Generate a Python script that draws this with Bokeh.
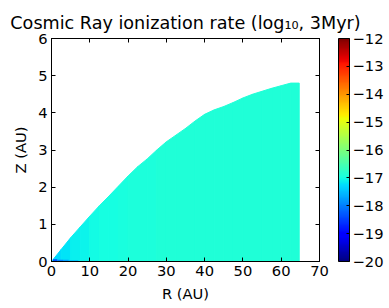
import numpy as np
from bokeh.plotting import figure
from bokeh.models import (ColumnDataSource, LinearColorMapper, ColorBar, LinearAxis,
                          FixedTicker, CustomJSTickFormatter, Range1d)
from bokeh.embed import file_html
from bokeh.resources import INLINE

# ---- data ----
R_B = [0, 2.5, 5, 7.5, 10, 12.5, 15, 17.5, 20, 22.5, 25, 27.5, 30, 32.5, 35,
       37.5, 40, 42.5, 45, 47.5, 50, 52.5, 55, 57.5, 60, 62.5, 64.7]
Z_B = [0.0, 0.32, 0.64, 0.93, 1.22, 1.50, 1.76, 2.03, 2.30, 2.55, 2.76, 3.00,
       3.22, 3.40, 3.58, 3.78, 3.96, 4.08, 4.17, 4.28, 4.40, 4.50, 4.58, 4.66,
       4.73, 4.80, 4.80]
ION = [-17.3, -17.2, -17.12, -17.07, -17.03, -17.0, -16.97, -16.95, -16.93,
       -16.92, -16.91, -16.9, -16.9, -16.9, -16.9, -16.9, -16.9, -16.9, -16.9,
       -16.9, -16.9, -16.9, -16.9, -16.9, -16.9, -16.9]
BASE_L = [0.4, 1.5, 3.0, 4.5]
BASE_R = [1.5, 3.0, 4.5, 7.0]
BASE_TOP = [0.06, 0.05, 0.045, 0.035]
BASE_ION = [-18.4, -18.0, -17.75, -17.55]
CB_TICKS = [-20, -19, -18, -17, -16, -15, -14, -13, -12]
X_TICKS = [0, 10, 20, 30, 40, 50, 60, 70]
Y_TICKS = [0, 1, 2, 3, 4, 5, 6]

# ---- jet palette (matplotlib segment definition) ----
def _seg(pts, x):
    return np.interp(x, [q[0] for q in pts], [q[1] for q in pts])
_x = np.linspace(0, 1, 256)
_r = _seg([(0, 0), (0.35, 0), (0.66, 1), (0.89, 1), (1, 0.5)], _x)
_g = _seg([(0, 0), (0.125, 0), (0.375, 1), (0.64, 1), (0.91, 0), (1, 0)], _x)
_b = _seg([(0, 0.5), (0.11, 1), (0.34, 1), (0.65, 0), (1, 0)], _x)
JET = ["#%02x%02x%02x" % (int(round(a * 255)), int(round(b * 255)), int(round(c * 255)))
       for a, b, c in zip(_r, _g, _b)]

mapper = LinearColorMapper(palette=JET, low=-20, high=-12)

FONT = "DejaVu Sans"
FS = "14.7px"

p = figure(frame_width=268, frame_height=223, output_backend="svg", toolbar_location=None,
           x_range=Range1d(0, 70), y_range=Range1d(0, 6),
           title="Cosmic Ray ionization rate (log₁₀, 3Myr)",
           min_border_left=51, min_border_top=38, min_border_bottom=10,
           min_border_right=5)
p.title.text_font = FONT
p.title.text_font_size = "17.6px"
p.title.text_font_style = "normal"
p.title.text_color = "black"
p.title.align = "center"
p.title.standoff = 12

xs, ys = [], []
for i in range(len(R_B) - 1):
    xs.append([R_B[i], R_B[i + 1], R_B[i + 1], R_B[i]])
    ys.append([0, 0, Z_B[i + 1], Z_B[i]])
src = ColumnDataSource(dict(xs=xs, ys=ys, ion=ION))
p.patches("xs", "ys", source=src,
          fill_color={"field": "ion", "transform": mapper},
          line_color={"field": "ion", "transform": mapper}, line_width=1)

bsrc = ColumnDataSource(dict(left=BASE_L, right=BASE_R, top=BASE_TOP,
                             bottom=[0] * len(BASE_L), ion=BASE_ION))
p.quad(left="left", right="right", top="top", bottom="bottom", source=bsrc,
       fill_color={"field": "ion", "transform": mapper}, line_color=None)

p.grid.visible = False
p.outline_line_color = "black"
p.outline_line_width = 1

for ax in (p.xaxis[0], p.yaxis[0]):
    ax.major_label_text_font = FONT
    ax.major_label_text_font_size = FS
    ax.major_label_text_color = "black"
    ax.axis_label_text_font = FONT
    ax.axis_label_text_font_size = FS
    ax.axis_label_text_font_style = "normal"
    ax.axis_label_text_color = "black"
    ax.major_tick_in = 4
    ax.major_tick_out = 0
    ax.major_tick_line_color = "black"
    ax.minor_tick_line_color = None
    ax.axis_line_color = "black"
    ax.major_label_standoff = 4
p.xaxis[0].ticker = FixedTicker(ticks=X_TICKS)
p.yaxis[0].ticker = FixedTicker(ticks=Y_TICKS)
p.xaxis[0].axis_label = "R (AU)"
p.yaxis[0].axis_label = "Z (AU)"
p.xaxis[0].axis_label_standoff = 6
p.yaxis[0].axis_label_standoff = 6

top_ax = LinearAxis(ticker=FixedTicker(ticks=X_TICKS), major_label_text_font_size="1px",
                    major_label_text_color=None, major_tick_line_color="black",
                    major_tick_in=4, major_tick_out=0, minor_tick_line_color=None,
                    major_label_standoff=0)
right_ax = LinearAxis(ticker=FixedTicker(ticks=Y_TICKS), major_label_text_font_size="1px",
                      major_label_text_color=None, major_tick_line_color="black",
                      major_tick_in=4, major_tick_out=0, minor_tick_line_color=None,
                      major_label_standoff=0)
p.add_layout(top_ax, "above")
p.add_layout(right_ax, "right")

cb = ColorBar(color_mapper=mapper, ticker=FixedTicker(ticks=CB_TICKS),
              formatter=CustomJSTickFormatter(code="return (tick < 0 ? '\u2212' : '') + Math.abs(tick);"),
              width=11, height=223, padding=0, margin=0, location=(19, 0),
              major_label_text_font=FONT, major_label_text_font_size=FS,
              major_label_text_color="black",
              major_tick_in=3, major_tick_out=0, major_tick_line_color="black",
              bar_line_color="black", border_line_color=None,
              background_fill_alpha=0, label_standoff=3)
p.add_layout(cb, "right")

open("out.html", "w").write(file_html(p, INLINE))
